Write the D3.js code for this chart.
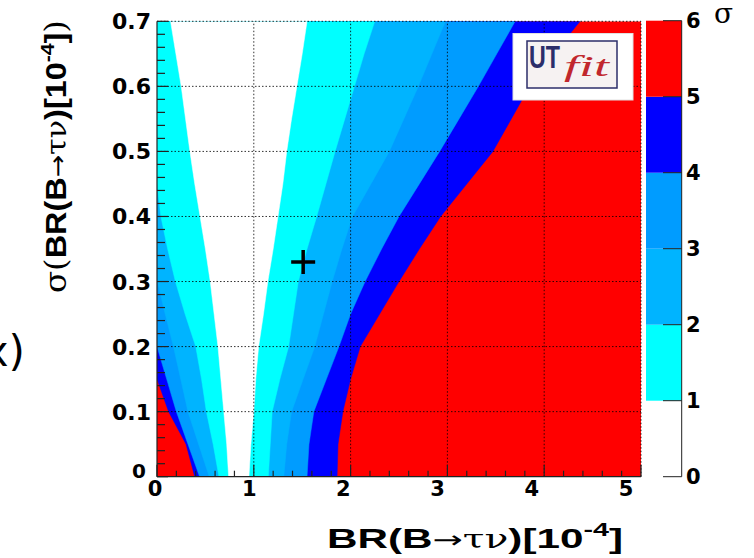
<!DOCTYPE html>
<html><head><meta charset="utf-8">
<script src="https://cdn.jsdelivr.net/npm/d3@7"></script>
<style>body{margin:0;background:#fff}svg{display:block}</style>
</head><body>
<svg id="c" width="754" height="558"></svg>
<script>
// ---- data ----
const yLevels = [0,0.05,0.1,0.15,0.2,0.25,0.3,0.35,0.4,0.45,0.5,0.55,0.6,0.65,0.7];
// x positions (BR, 1e-4) of each n-sigma contour, left and right branch
const c1Left  = [0.74,0.72,0.69,0.66,0.63,0.59,0.55,0.50,0.445,0.39,0.34,0.295,0.25,0.195,0.14];
const c1Right = [0.95,0.97,1.00,1.02,1.05,1.10,1.145,1.20,1.25,1.30,1.34,1.39,1.445,1.50,1.55];
const c2Left  = [0.64,0.58,0.51,0.46,0.40,0.29,0.19,0.11,0.04,0,0,0,0,0,0];
const c2Right = [1.15,1.17,1.19,1.27,1.36,1.41,1.46,1.55,1.65,1.745,1.84,1.94,2.04,2.14,2.25];
const c3Left  = [0.54,0.43,0.32,0.245,0.17,0.085,0.005,0,0,0,0,0,0,0,0];
const c3Right = [1.31,1.34,1.39,1.51,1.63,1.72,1.81,1.91,2.02,2.21,2.40,2.55,2.70,2.84,2.98];
const c4Left  = [0.44,0.32,0.20,0.10,0,0,0,0,0,0,0,0,0,0,0];
const c4Right = [1.55,1.57,1.62,1.75,1.88,2.00,2.15,2.32,2.50,2.71,2.92,3.12,3.32,3.51,3.70];
const c5Left  = [0.39,0.30,0.12,0,0,0,0,0,0,0,0,0,0,0,0];
const c5Right = [1.86,1.87,1.92,2.00,2.10,2.30,2.50,2.71,2.93,3.20,3.47,3.66,3.85,4.10,4.37];

const sigmaLevels = [0,1,2,3,4,5,6];
const bandColors  = ['#ffffff','#00ffff','#00b4ff','#009cff','#0000ff','#ff0000'];
const xTicks = [0,1,2,3,4,5];
const yTicks = [0,0.1,0.2,0.3,0.4,0.5,0.6,0.7];
const yTickLabels = ['0','0.1','0.2','0.3','0.4','0.5','0.6','0.7'];
const markerX = [1.51];
const markerY = [0.33];

// ---- layout ----
const svg = d3.select('#c');
const x = d3.scaleLinear().domain([0,5]).range([157,641]);
const y = d3.scaleLinear().domain([0,0.7]).range([476.7,21.3]);
const xLab = d3.scaleLinear().domain([0,5]).range([155,626]);
const zc = d3.scaleLinear().domain([0,6]).range([476.7,20.7]);

svg.append('defs').append('clipPath').attr('id','pa')
  .append('rect').attr('x',x(0)).attr('y',y(0.7)).attr('width',x(5)-x(0)).attr('height',y(0)-y(0.7));

const g = svg.append('g').attr('clip-path','url(#pa)');
g.append('rect').attr('x',x(0)).attr('y',y(0.7)).attr('width',x(5)-x(0)).attr('height',y(0)-y(0.7))
  .attr('fill',bandColors[5]);

const contours = [
  {L:c5Left,R:c5Right,color:bandColors[4]},
  {L:c4Left,R:c4Right,color:bandColors[3]},
  {L:c3Left,R:c3Right,color:bandColors[2]},
  {L:c2Left,R:c2Right,color:bandColors[1]},
  {L:c1Left,R:c1Right,color:bandColors[0]}
];
const line = d3.line().x(d=>x(d[0])).y(d=>y(d[1]));
contours.forEach(c=>{
  const pts = yLevels.map((v,i)=>[c.L[i],v]).concat(yLevels.map((v,i)=>[c.R[i],v]).reverse());
  g.append('path').attr('d',line(pts)+'Z').attr('fill',c.color).attr('stroke',c.color).attr('stroke-width',0.5);
});

// grid
const grid = svg.append('g').attr('stroke','#000').attr('stroke-width',1).attr('stroke-dasharray','1.5,2').attr('opacity',0.8);
[1,2,3,4].forEach(v=>grid.append('line').attr('x1',x(v)).attr('x2',x(v)).attr('y1',y(0)).attr('y2',y(0.7)));
[0.1,0.2,0.3,0.4,0.5,0.6].forEach(v=>grid.append('line').attr('y1',y(v)).attr('y2',y(v)).attr('x1',x(0)).attr('x2',x(5)));
grid.append('line').attr('x1',x(0)).attr('x2',x(5)).attr('y1',y(0.7)).attr('y2',y(0.7));
grid.append('line').attr('x1',x(5)).attr('x2',x(5)).attr('y1',y(0)).attr('y2',y(0.7));

// axes (ticks inside)
const ax = svg.append('g').attr('stroke','#222').attr('stroke-width',1.2);
ax.append('line').attr('x1',x(0)).attr('x2',x(5)).attr('y1',y(0)).attr('y2',y(0));
ax.append('line').attr('x1',x(0)).attr('x2',x(0)).attr('y1',y(0)).attr('y2',y(0.7));
x.ticks(25).forEach(v=>{
  const major = Math.abs(v-Math.round(v))<1e-6;
  ax.append('line').attr('x1',x(v)).attr('x2',x(v)).attr('y1',y(0)).attr('y2',y(0)-(major?12:6));
});
y.ticks(35).forEach(v=>{
  const major = Math.abs(v*10-Math.round(v*10))<1e-6;
  ax.append('line').attr('y1',y(v)).attr('y2',y(v)).attr('x1',x(0)).attr('x2',x(0)+(major?11:8));
});

// tick labels
const tf = 'DejaVu Sans, Liberation Sans, sans-serif';
svg.append('g').selectAll('text').data(xTicks).join('text')
  .attr('x',d=>xLab(d)).attr('y',496).attr('text-anchor','middle')
  .attr('font-family',tf).attr('font-weight','bold').attr('font-size',21).text(d=>d);
svg.append('g').selectAll('text').data(yTicks).join('text')
  .attr('x',d=>d===0?146:151).attr('y',d=>y(d)+(d===0?1:8)).attr('text-anchor','end')
  .attr('font-family',tf).attr('font-weight','bold').attr('font-size',d=>d===0?20:22).text((d,i)=>yTickLabels[i]);

// marker
markerX.forEach((mx,i)=>{
  const px=x(mx), py=y(markerY[i]);
  svg.append('path').attr('d',`M${px-12},${py}H${px+12}M${px},${py-12}V${py+12}`)
    .attr('stroke','#000').attr('stroke-width',3.5);
});

// UTfit logo box
const lg = svg.append('g');
lg.append('rect').attr('x',513).attr('y',33.5).attr('width',120).attr('height',66.5).attr('fill','#fff').attr('stroke','#e0e0e0');
lg.append('rect').attr('x',527).attr('y',41).attr('width',90).attr('height',47).attr('fill','#f6f2f2').attr('stroke','#2c2e6a').attr('stroke-width',1.5);
lg.append('text').attr('x',529).attr('y',68).attr('font-family','Liberation Sans, Arial, sans-serif').attr('font-weight','bold')
  .attr('font-size',31).attr('fill','#2c2e6a').attr('textLength',31).attr('lengthAdjust','spacingAndGlyphs').text('UT');
lg.append('text').attr('x',564).attr('y',76).attr('font-family','Liberation Serif, DejaVu Serif, serif').attr('font-style','italic')
  .attr('font-size',30).attr('fill','#c1272d').attr('textLength',45).attr('lengthAdjust','spacingAndGlyphs').text('fit');

// colour bar
const cb = svg.append('g');
bandColors.forEach((c,i)=>{
  cb.append('rect').attr('x',646).attr('width',35.7).attr('y',zc(sigmaLevels[i+1])).attr('height',zc(sigmaLevels[i])-zc(sigmaLevels[i+1]))
    .attr('fill',c);
});
cb.append('line').attr('x1',681.7).attr('x2',681.7).attr('y1',zc(0)).attr('y2',zc(6)).attr('stroke','#222').attr('stroke-width',1);
sigmaLevels.forEach(v=>{
  cb.append('line').attr('x1',663).attr('x2',681.7).attr('y1',zc(v)).attr('y2',zc(v)).attr('stroke','#222').attr('stroke-width',1);
  cb.append('text').attr('x',686).attr('y',zc(v)+7.5).attr('font-family',tf).attr('font-weight','bold').attr('font-size',21).text(v);
});
cb.append('text').attr('x',714).attr('y',23).attr('font-family','DejaVu Serif, serif').attr('font-size',28).text('σ');

// axis titles
const xt = svg.append('text').attr('x',327).attr('y',548).attr('font-family','Liberation Sans, Arial, sans-serif')
  .attr('font-size',28).attr('textLength',296).attr('lengthAdjust','spacingAndGlyphs');
xt.append('tspan').attr('font-weight','bold').text('BR(B');
xt.append('tspan').attr('font-family','DejaVu Sans, sans-serif').attr('font-size',24).text('→');
xt.append('tspan').attr('font-family','DejaVu Serif, serif').attr('font-size',26).text('τν');
xt.append('tspan').attr('font-weight','bold').text(')[10');
xt.append('tspan').attr('font-weight','bold').attr('font-size',19).attr('dy',-12).text('-4');
xt.append('tspan').attr('font-weight','bold').attr('dy',12).text(']');

const yt = svg.append('text').attr('transform','translate(66,293) rotate(-90)').attr('font-family','Liberation Sans, Arial, sans-serif')
  .attr('font-size',29).attr('textLength',273).attr('lengthAdjust','spacingAndGlyphs');
yt.append('tspan').attr('font-family','DejaVu Serif, serif').text('σ(');
yt.append('tspan').attr('font-weight','bold').text('BR(B');
yt.append('tspan').attr('font-family','DejaVu Sans, sans-serif').attr('font-size',24).text('→');
yt.append('tspan').attr('font-family','DejaVu Serif, serif').attr('font-size',27).text('τν');
yt.append('tspan').attr('font-weight','bold').text(')[10');
yt.append('tspan').attr('font-weight','bold').attr('font-size',19).attr('dy',-12).text('-4');
yt.append('tspan').attr('font-weight','bold').attr('dy',12).text(']');
yt.append('tspan').attr('font-family','DejaVu Serif, serif').text(')');

// clipped fragment at far left (as in the reference)
svg.append('text').attr('x',25).attr('y',366).attr('text-anchor','end').attr('font-family','DejaVu Sans, sans-serif')
  .attr('font-size',42).text('x)');
</script>
</body></html>
